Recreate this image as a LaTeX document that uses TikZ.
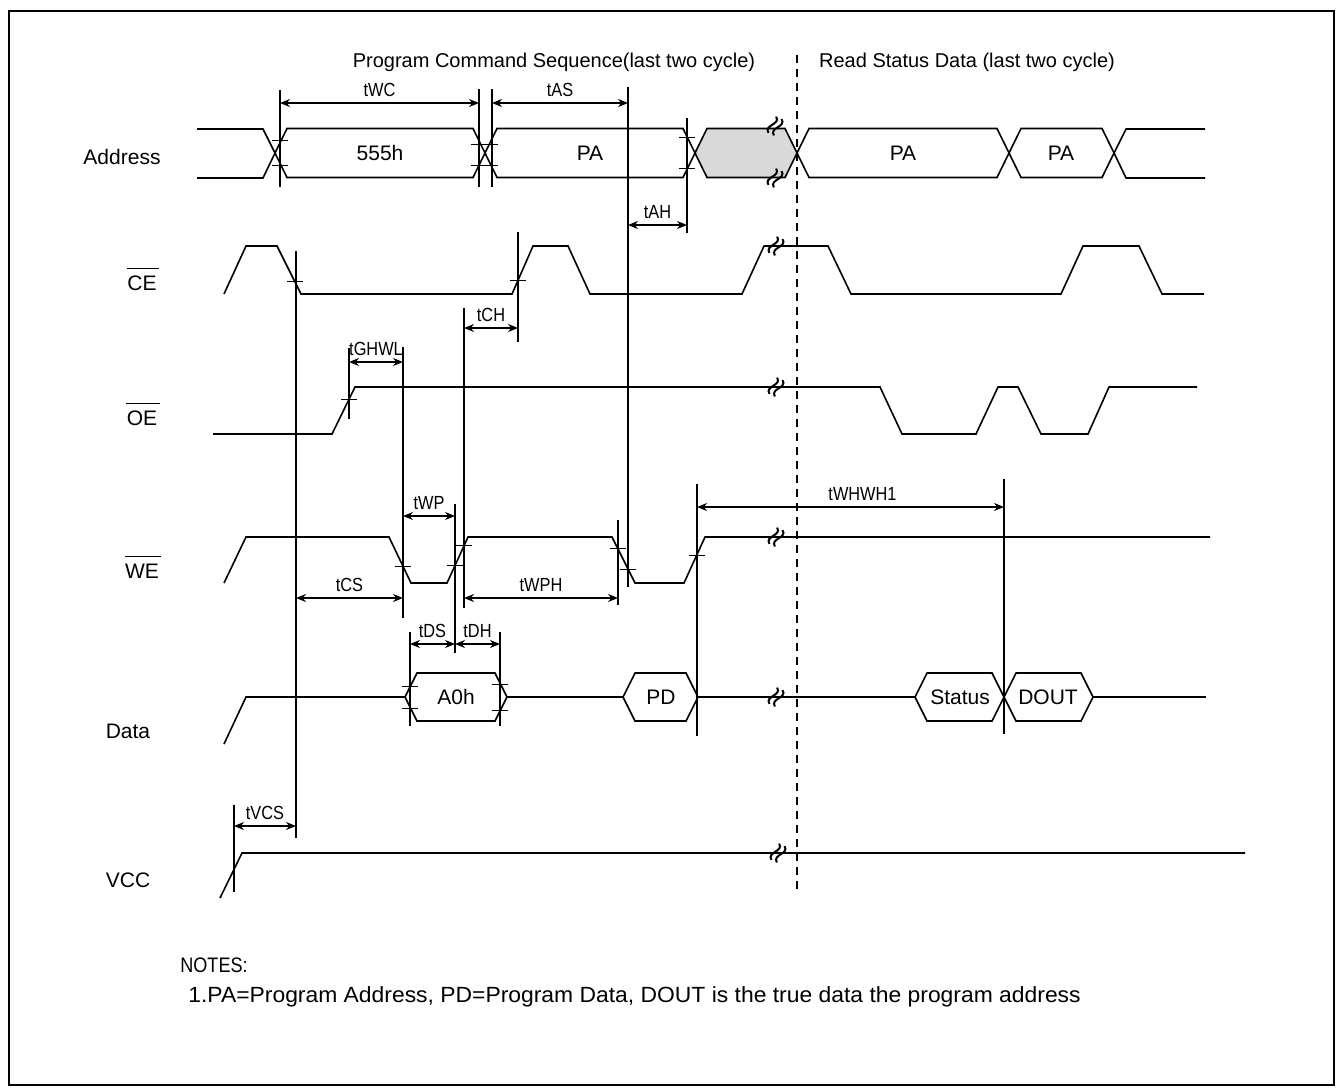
\documentclass[tikz,border=0pt]{standalone}
\usepackage{fontspec}
\setmainfont{Liberation Sans}
\newfontfamily\tagfont[FakeStretch=0.86]{Liberation Sans}
\newfontfamily\notefont[FakeStretch=1.04]{Liberation Sans}
\usetikzlibrary{arrows.meta}

\tikzset{
	brk/.pic={
		\draw[line width=1pt] (-9,-3) .. controls (-4,-11) and (4,5) .. (9,-3);
		\draw[line width=1pt] (-9,3) .. controls (-4,-5) and (4,11) .. (9,3);
	}
}

\newcommand{\hexbox}[5][]{\draw[sig,#1] (#2,#4) -- (#2+12,#4-#5) -- (#3-12,#4-#5) -- (#3,#4) -- (#3-12,#4+#5) -- (#2+12,#4+#5) -- cycle;}
\newcommand{\tdim}[6][]{\draw[dim] (#3,#5) -- (#4,#5) node[tag, midway, above=2pt, #1] (#2) {#6};}

\begin{document}
\begin{tikzpicture}[x=0.5pt, y=-0.5pt,
		sig/.style={line width=0.8pt},
		guide/.style={line width=0.6pt},
		tk/.style={line width=0.5pt},
		dim/.style={line width=0.6pt, {Stealth[length=5pt,width=4pt]}-{Stealth[length=5pt,width=4pt]}},
		tag/.style={font=\tagfont\fontsize{9.5}{11}\selectfont, inner sep=1pt},
		lbl/.style={font=\fontsize{10.5}{12}\selectfont, inner sep=0pt},
		hdr/.style={font=\fontsize{10}{12}\selectfont, inner sep=0pt}]
	\useasboundingbox (0,0) rectangle (1336,1088);
	\draw[line width=1.2pt] (9,11) rectangle (1334,1085);

	\node[hdr] (hprog) at (554,62) {Program Command Sequence(last two cycle)};
	\node[hdr] (hread) at (967,62) {Read Status Data (last two cycle)};

	\node[lbl] (laddr) at (122,157) {Address};
	\node[lbl] (lce) at (142,283) {CE};
	\node[lbl] (loe) at (142,418) {OE};
	\node[lbl] (lwe) at (142,571) {WE};
	\node[lbl] (ldata) at (128,731) {Data};
	\node[lbl] (lvcc) at (128,880) {VCC};
	\foreach \n in {lce, loe, lwe}
		\draw[guide] ([yshift=3.5pt]\n.north west) -- ([yshift=3.5pt, xshift=1pt]\n.north east);

	\draw[dashed, dash pattern=on 4pt off 3pt, line width=0.6pt] (797,55) -- (797,893);

	\draw[sig] (197,129) -- (263,129) -- (275,153) -- (263,178) -- (197,178);
	\hexbox{275}{485}{153}{24.5}
	\hexbox{485}{695}{153}{24.5}
	\hexbox[fill=black!15]{695}{797}{153}{24.5}
	\hexbox{797}{1009}{153}{24.5}
	\hexbox{1009}{1114}{153}{24.5}
	\draw[sig] (1205,129) -- (1126,129) -- (1114,153) -- (1126,178) -- (1205,178);
	\node[lbl] (a555) at (380,153) {555h};
	\node[lbl] (apa) at (590,153) {PA};
	\node[lbl] (apb) at (903,153) {PA};
	\node[lbl] (apc) at (1061,153) {PA};

	\draw[sig] (224,294) -- (246,246) -- (277,246) -- (301,294) -- (512,294) -- (533,246) -- (568,246) -- (590,294) -- (742,294) -- (764,246) -- (828,246) -- (851,294) -- (1061,294) -- (1083,246) -- (1139,246) -- (1162,294) -- (1204,294);
	\draw[sig] (213,434) -- (332,434) -- (355,387) -- (880,387) -- (902,434) -- (976,434) -- (998,387) -- (1018,387) -- (1041,434) -- (1088,434) -- (1109,387) -- (1197,387);
	\draw[sig] (224,583) -- (246,537) -- (389,537) -- (411,583) -- (447,583) -- (468,537) -- (612,537) -- (635,583) -- (684,583) -- (705,537) -- (1210,537);

	\draw[sig] (224,744) -- (246,697) -- (405,697);
	\draw[sig] (507,697) -- (623,697);
	\draw[sig] (698,697) -- (915,697);
	\draw[sig] (1093,697) -- (1206,697);
	\hexbox{405}{507}{697}{24}
	\hexbox{623}{698}{697}{24}
	\hexbox{915}{1004}{697}{24}
	\hexbox{1004}{1093}{697}{24}
	\node[lbl] (da0) at (456,697) {A0h};
	\node[lbl] (dpd) at (661,697) {PD};
	\node[lbl] (dst) at (960,697) {Status};
	\node[lbl] (dout) at (1048,697) {DOUT};

	\draw[sig] (220,898) -- (242,853) -- (1245,853);

	\foreach \x/\ya/\yb in {280/90/187, 479/89/187, 492/89/187, 628/87/587, 687/118/233, 296/251/838, 518/232/342, 464/308/608, 349/348/419, 403/347/618, 455/504/653, 618/520/605, 410/632/726, 500/632/726, 697/484/736, 1004/479/734, 234/805/892}
		\draw[guide] (\x,\ya) -- (\x,\yb);

	\foreach \x/\y in {280/140, 280/165, 687/137, 687/168, 295/281, 518/280, 349/399, 403/566, 455/565, 464/545, 618/548, 628/569, 697/555, 410/686, 410/708, 500/684, 500/710}
		\draw[tk] (\x-8,\y) -- (\x+8,\y);
	\draw[tk] (471,144) -- (498,144);
	\draw[tk] (471,165) -- (498,165);

	\foreach \x/\y in {775/126, 775/178, 776/246, 776/387, 776/537, 776/697, 778/853}
		\pic[rotate=65] at (\x,\y) {brk};

	\tdim{twc}{280}{479}{103}{tWC}
	\tdim{tas}{492}{628}{103}{tAS}
	\tdim{tah}{628}{687}{225}{tAH}
	\tdim{tch}{464}{518}{328}{tCH}
	\tdim{tghwl}{349}{403}{362}{tGHWL}
	\tdim{twp}{403}{455}{516}{tWP}
	\tdim[xshift=6pt]{twhwh}{697}{1004}{507}{tWHWH1}
	\tdim{tcs}{296}{403}{598}{tCS}
	\tdim{twph}{464}{618}{598}{tWPH}
	\tdim{tds}{410}{455}{644}{tDS}
	\tdim{tdh}{455}{500}{644}{tDH}
	\tdim{tvcs}{234}{296}{826}{tVCS}

	\node[font=\tagfont\fontsize{10.5}{12}\selectfont, inner sep=0pt, anchor=west] (nhead) at (180,965) {NOTES:};
	\node[font=\notefont\fontsize{11}{13}\selectfont, inner sep=0pt, anchor=west] (nline) at (188,997) {1.PA=Program Address, PD=Program Data, DOUT is the true data the program address};
\end{tikzpicture}
\end{document}
